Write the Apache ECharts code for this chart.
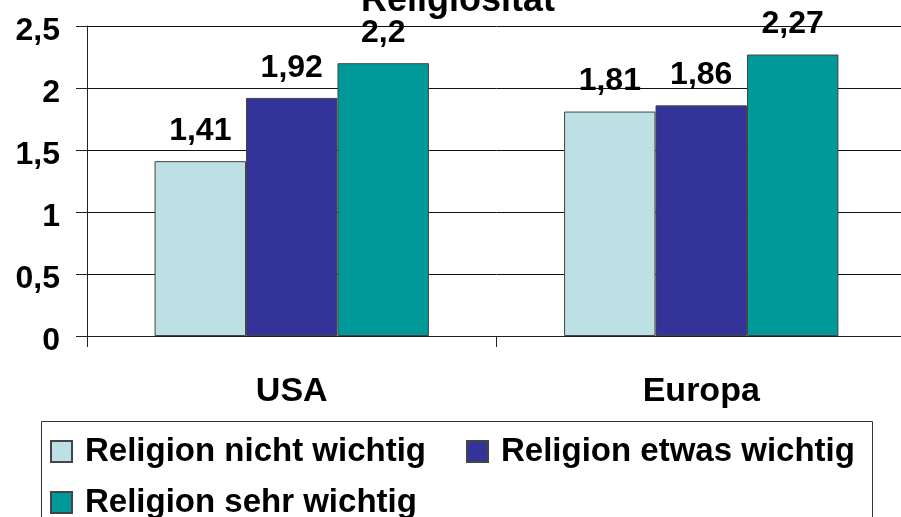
<!DOCTYPE html>
<html lang="de" style="height: 100%">
<head>
    <meta charset="UTF-8">
    <title>Religiosität</title>
    <script type="text/javascript" src="https://cdn.jsdelivr.net/npm/echarts@6/dist/echarts.min.js"></script>
</head>
<body style="height: 100%; margin: 0; background: #fff; overflow: hidden">
<div id="container" style="width: 911px; height: 517px"></div>
<script type="text/javascript">
    var categories = ['USA', 'Europa'];
    var seriesNames = ['Religion nicht wichtig', 'Religion etwas wichtig', 'Religion sehr wichtig'];
    var nichtWichtig = [1.41, 1.81];
    var etwasWichtig = [1.92, 1.86];
    var sehrWichtig = [2.2, 2.27];
    var yTicks = [0, 0.5, 1, 1.5, 2, 2.5];

    var colors = ['#bce0e3', '#333399', '#009999'];
    var font = '"Liberation Sans", Arial, sans-serif';

    function komma(v) {
        return String(v).replace('.', ',');
    }

    function makeSeries(name, values, color) {
        return {
            name: name,
            type: 'bar',
            data: values,
            barGap: 0,
            barCategoryGap: '33%',
            itemStyle: {color: color, borderColor: '#444', borderWidth: 1},
            label: {
                show: true,
                position: 'top',
                distance: 14,
                formatter: function (p) { return komma(p.value); },
                fontFamily: font,
                fontWeight: 'bold',
                fontSize: 32,
                color: '#000'
            }
        };
    }

    function makeLegend(name, left, top) {
        return {
            data: [name],
            left: left,
            top: top,
            padding: 0,
            icon: 'rect',
            itemWidth: 21,
            itemHeight: 21,
            textStyle: {
                fontFamily: font,
                fontWeight: 'bold',
                fontSize: 33,
                color: '#000',
                padding: [0, 0, 0, 8]
            }
        };
    }

    var myChart = echarts.init(document.getElementById('container'));
    myChart.setOption({
        animation: false,
        grid: {left: 87, right: 5, top: 26, bottom: 181, containLabel: false},
        legend: [
            makeLegend(seriesNames[0], 50, 435),
            makeLegend(seriesNames[1], 466, 435),
            makeLegend(seriesNames[2], 50, 486)
        ],
        xAxis: {
            type: 'category',
            data: categories,
            axisLine: {lineStyle: {color: '#222', width: 1}},
            axisTick: {show: true, length: 11, lineStyle: {color: '#222'}},
            axisLabel: {
                margin: 39,
                fontFamily: font,
                fontWeight: 'bold',
                fontSize: 34,
                color: '#000'
            }
        },
        yAxis: {
            type: 'value',
            min: yTicks[0],
            max: yTicks[yTicks.length - 1],
            interval: 0.5,
            axisLine: {show: true, lineStyle: {color: '#222', width: 1}},
            axisTick: {show: true, length: 11, lineStyle: {color: '#222'}},
            splitLine: {lineStyle: {color: '#111', width: 1}},
            axisLabel: {
                margin: 27,
                verticalAlign: 'top',
                lineHeight: 11,
                formatter: function (v) { return komma(v); },
                fontFamily: font,
                fontWeight: 'bold',
                fontSize: 32,
                color: '#000'
            }
        },
        graphic: [
            {
                type: 'text',
                x: 458,
                y: 1,
                style: {
                    text: 'Religiosität',
                    font: 'bold 36px ' + font,
                    fill: '#000',
                    align: 'center',
                    verticalAlign: 'middle',
                    textAlign: 'center',
                    textVerticalAlign: 'middle'
                }
            },
            {
                type: 'rect',
                shape: {x: 41.5, y: 421.5, width: 831, height: 130},
                style: {fill: 'none', stroke: '#333', lineWidth: 1},
                silent: true
            }
        ],
        series: [
            makeSeries(seriesNames[0], nichtWichtig, colors[0]),
            makeSeries(seriesNames[1], etwasWichtig, colors[1]),
            makeSeries(seriesNames[2], sehrWichtig, colors[2])
        ]
    });
</script>
</body>
</html>
